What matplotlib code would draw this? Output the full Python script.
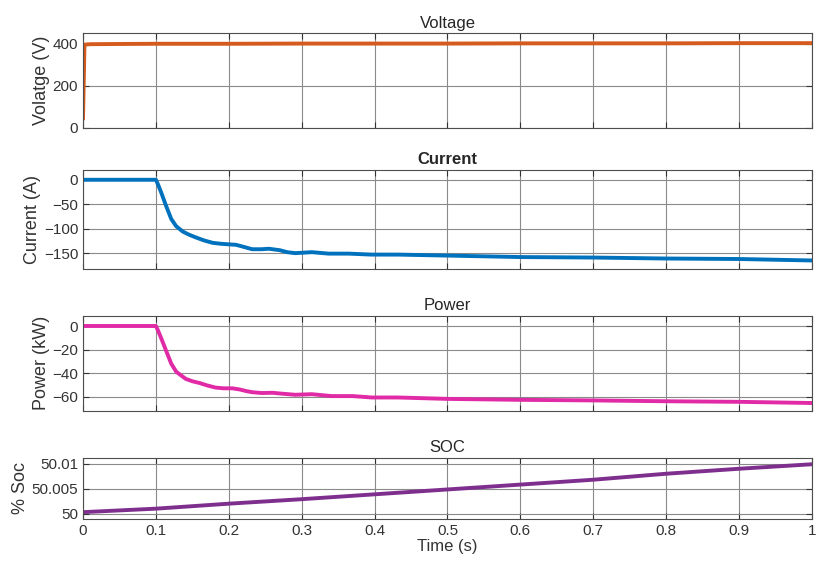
import matplotlib.pyplot as plt

plt.rcParams["font.family"] = ["Liberation Sans", "DejaVu Sans"]

# time points (s)
t_volt = [0.0, 0.002, 0.01, 0.05, 0.1, 0.2, 0.3, 0.4, 0.5, 0.6, 0.7, 0.8, 0.9, 1.0]
voltage = [45, 396, 398, 399, 400, 400, 401, 401, 401, 402, 402, 402, 403, 403]

t_curr = [0.0, 0.1, 0.103, 0.107, 0.1136, 0.121, 0.1278, 0.137, 0.145, 0.155, 0.166, 0.178,
          0.19, 0.2, 0.21, 0.22, 0.232, 0.245, 0.255, 0.27, 0.28, 0.291, 0.303, 0.314,
          0.337, 0.364, 0.396, 0.432, 0.5, 0.6, 0.7, 0.8, 0.9, 1.0]
current = [0, 0, -10, -25, -52, -80, -95, -106, -112, -118, -124, -129,
           -131, -132, -133, -137, -142, -142, -141, -144, -148, -150, -149, -148,
           -151, -151, -153, -153, -155, -158, -159, -161, -162, -165]

t_pow = [0.0, 0.1, 0.103, 0.107, 0.114, 0.121, 0.128, 0.141, 0.15, 0.16, 0.17, 0.182,
         0.193, 0.205, 0.215, 0.225, 0.232, 0.245, 0.26, 0.272, 0.291, 0.314,
         0.341, 0.37, 0.396, 0.432, 0.5, 0.6, 0.7, 0.8, 0.9, 1.0]
power = [0, 0, -4, -10, -21, -32, -39, -45, -47, -48.5, -50.5, -52.4,
         -53, -53, -54, -55.5, -56.3, -57, -56.8, -57.5, -58.5, -58,
         -59.6, -59.6, -60.8, -60.8, -62, -62.8, -63.3, -64, -64.5, -65.5]

t_soc = [0.0, 0.1, 0.2, 0.3, 0.7, 0.8, 0.9, 1.0]
soc = [50.0003, 50.001, 50.002, 50.0029, 50.0068, 50.008, 50.009, 50.0099]

x_ticks = [0, 0.1, 0.2, 0.3, 0.4, 0.5, 0.6, 0.7, 0.8, 0.9, 1]
x_labels = ["0", "0.1", "0.2", "0.3", "0.4", "0.5", "0.6", "0.7", "0.8", "0.9", "1"]

fig = plt.figure(figsize=(8.18, 5.61), dpi=100)

L, W = 0.1015, 0.891
ax_v = fig.add_axes([L, 0.7722, W, 0.1685])
ax_i = fig.add_axes([L, 0.5200, W, 0.1770])
ax_p = fig.add_axes([L, 0.2680, W, 0.1687])
ax_s = fig.add_axes([L, 0.0755, W, 0.1085])


def style(ax, yticks, ylim, ylabel, title, bold=False, show_x=False):
    ax.set_xlim(0, 1)
    ax.set_ylim(*ylim)
    ax.set_yticks(yticks)
    ax.set_xticks(x_ticks)
    if show_x:
        ax.set_xticklabels(x_labels)
    else:
        ax.set_xticklabels([])
    ax.grid(True, color="#8a8a8a", linewidth=0.8)
    ax.set_axisbelow(True)
    ax.tick_params(direction="in", top=True, right=True, labelsize=11,
                   colors="#333333", length=4, width=0.8)
    for s in ax.spines.values():
        s.set_color("#4d4d4d")
        s.set_linewidth(0.8)
    ax.set_ylabel(ylabel, fontsize=13, color="#333333", labelpad=2)
    ax.set_title(title, fontsize=12, color="#262626", pad=4,
                 fontweight="bold" if bold else "normal")


ax_v.plot(t_volt, voltage, color="#D55A1E", linewidth=2.8)
style(ax_v, [0, 200, 400], (0, 450), "Volatge (V)", "Voltage")

ax_i.plot(t_curr, current, color="#0072BD", linewidth=2.8)
style(ax_i, [-150, -100, -50, 0], (-183, 20), "Current (A)", "Current", bold=True)

ax_p.plot(t_pow, power, color="#E02AA6", linewidth=2.8)
style(ax_p, [-60, -40, -20, 0], (-72, 8.5), "Power (kW)", "Power")

ax_s.plot(t_soc, soc, color="#7E2F8E", linewidth=2.8)
style(ax_s, [50, 50.005, 50.01], (49.999, 50.0112), "% Soc", "SOC", show_x=True)
ax_s.set_yticklabels(["50", "50.005", "50.01"])
ax_s.set_xlabel("Time (s)", fontsize=12, color="#333333", labelpad=1)

fig.savefig("out.png", dpi=100)
